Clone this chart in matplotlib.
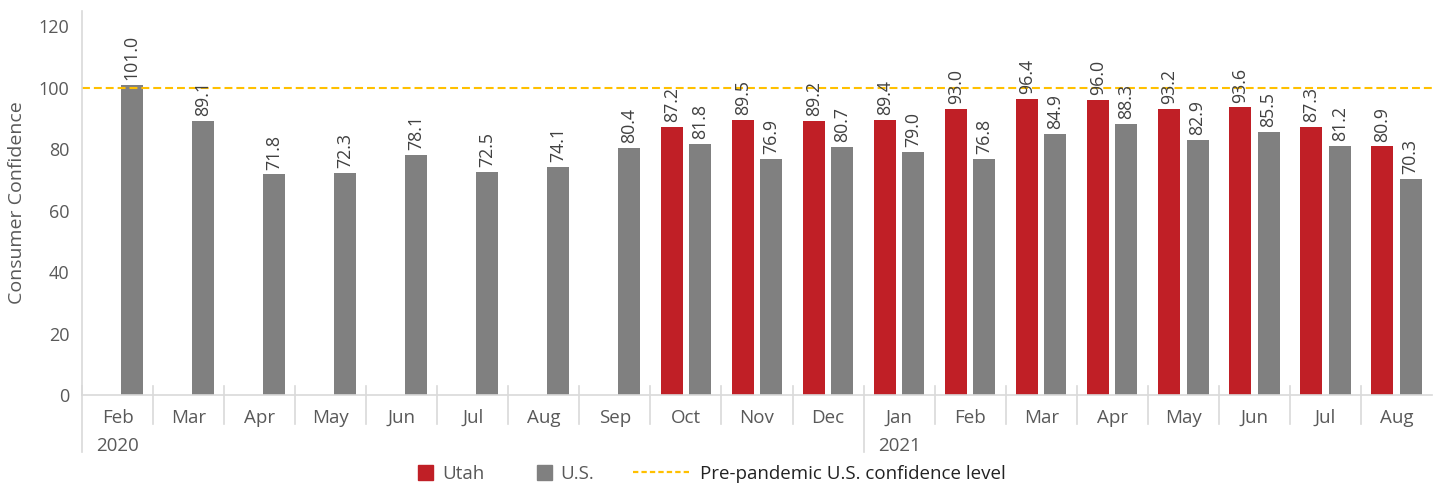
import matplotlib
matplotlib.use('Agg')
import matplotlib.pyplot as plt
from matplotlib.patches import Patch
from matplotlib.lines import Line2D

plt.rcParams['font.family'] = ['Open Sans', 'DejaVu Sans']

months = ['Feb', 'Mar', 'Apr', 'May', 'Jun', 'Jul', 'Aug', 'Sep', 'Oct', 'Nov',
          'Dec', 'Jan', 'Feb', 'Mar', 'Apr', 'May', 'Jun', 'Jul', 'Aug']
years = {0: '2020', 11: '2021'}
utah = [None, None, None, None, None, None, None, None,
        87.2, 89.5, 89.2, 89.4, 93.0, 96.4, 96.0, 93.2, 93.6, 87.3, 80.9]
us = [101.0, 89.1, 71.8, 72.3, 78.1, 72.5, 74.1, 80.4, 81.8, 76.9, 80.7,
      79.0, 76.8, 84.9, 88.3, 82.9, 85.5, 81.2, 70.3]
pre_pandemic = 100

RED = '#c01f26'
GRAY = '#808080'
GOLD = '#ffc000'
TXT = '#595959'
LBL = '#404040'
LINE = '#d9d9d9'

W, H = 1440, 487
fig = plt.figure(figsize=(W / 100, H / 100), dpi=100)
ax_h = 384
ax = fig.add_axes([82 / W, 1 - 395 / H, 1350 / W, ax_h / H])

x = list(range(len(months)))
w = 0.31
off = 0.2

for i in x:
    if utah[i] is not None:
        ax.bar(i - off, utah[i], width=w, color=RED)
        ax.text(i - off, utah[i] + 1.6, f'{utah[i]:.1f}', rotation=90,
                ha='center', va='bottom', fontsize=12.8, color=LBL)
    ax.bar(i + off, us[i], width=w, color=GRAY)
    ax.text(i + off, us[i] + 1.6, f'{us[i]:.1f}', rotation=90,
            ha='center', va='bottom', fontsize=12.8, color=LBL)

ax.axhline(pre_pandemic, color=GOLD, linestyle=(0, (3.8, 1.9)), linewidth=1.5)

ax.set_xlim(-0.5, len(months) - 0.5)
ax.set_ylim(0, 125)
ax.set_yticks([0, 20, 40, 60, 80, 100, 120])
ax.tick_params(axis='y', length=0, labelsize=13, labelcolor=TXT, pad=9)
ax.set_ylabel('Consumer Confidence', fontsize=14, color=TXT, labelpad=9)

ax.set_xticks(x)
ax.set_xticklabels(months)
ax.tick_params(axis='x', which='major', length=0, labelsize=13.5,
               labelcolor=TXT, pad=10)

for s in ['top', 'right']:
    ax.spines[s].set_visible(False)
for s in ['left', 'bottom']:
    ax.spines[s].set_color(LINE)
    ax.spines[s].set_linewidth(1.2)

# category separators below the axis, longer ones at year starts
trans = ax.get_xaxis_transform()
for i in x:
    low = -57 / ax_h if i in years else -29 / ax_h
    ax.plot([i - 0.5, i - 0.5], [9 / ax_h, low], color=LINE, linewidth=1.2,
            transform=trans, clip_on=False)
for i, yr in years.items():
    ax.text(i, -42 / ax_h, yr, transform=trans, ha='center', va='top',
            fontsize=13.5, color=TXT)

# legend, one entry at a time so spacing can follow the original
leg_y = 1 - 474 / H
entries = [
    (Patch(color=RED), 'Utah', TXT, 418, 0.8, 0.5),
    (Patch(color=GRAY), 'U.S.', TXT, 537, 0.8, 0.45),
    (Line2D([], [], color=GOLD, linestyle=(0, (2.4, 1.4)), linewidth=1.6),
     'Pre-pandemic U.S. confidence level', '#222222', 633, 3.0, 0.6),
]
for handle, label, col, px, hl, tp in entries:
    lg = fig.legend([handle], [label], loc='center left',
                    bbox_to_anchor=(px / W, leg_y), frameon=False,
                    fontsize=13.5, handlelength=hl, handleheight=0.8,
                    handletextpad=tp, borderpad=0, borderaxespad=0)
    lg.get_texts()[0].set_color(col)

fig.savefig('out.png', dpi=100)
